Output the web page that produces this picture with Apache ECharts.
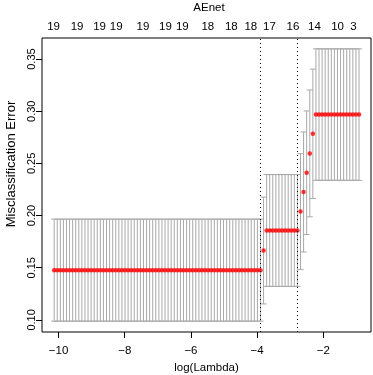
<!DOCTYPE html>
<html>
<head>
<meta charset="utf-8">
<script src="https://cdn.jsdelivr.net/npm/echarts@6/dist/echarts.min.js"></script>
<style>
  html, body { margin: 0; padding: 0; background: #fff; }
  #chart { width: 373px; height: 375px; }
</style>
</head>
<body>
<div id="chart"></div>
<script>
// log(lambda) for each of the 100 fits
const logLambda = [
  -10.132, -10.039, -9.946, -9.853, -9.760, -9.667, -9.574, -9.481, -9.388, -9.295,
  -9.202, -9.109, -9.016, -8.923, -8.830, -8.737, -8.644, -8.550, -8.457, -8.364,
  -8.271, -8.178, -8.085, -7.992, -7.899, -7.806, -7.713, -7.620, -7.527, -7.434,
  -7.341, -7.248, -7.155, -7.062, -6.969, -6.876, -6.783, -6.690, -6.597, -6.504,
  -6.411, -6.318, -6.225, -6.132, -6.039, -5.946, -5.853, -5.760, -5.667, -5.574,
  -5.480, -5.387, -5.294, -5.201, -5.108, -5.015, -4.922, -4.829, -4.736, -4.643,
  -4.550, -4.457, -4.364, -4.271, -4.178, -4.085, -3.992, -3.899, -3.806, -3.713,
  -3.620, -3.527, -3.434, -3.341, -3.248, -3.155, -3.062, -2.969, -2.876, -2.783,
  -2.690, -2.597, -2.504, -2.410, -2.317, -2.224, -2.131, -2.038, -1.945, -1.852,
  -1.759, -1.666, -1.573, -1.480, -1.387, -1.294, -1.201, -1.108, -1.015, -0.922
];

// mean cross-validated misclassification error
const cvm = [
  0.1477, 0.1477, 0.1477, 0.1477, 0.1477, 0.1477, 0.1477, 0.1477, 0.1477, 0.1477,
  0.1477, 0.1477, 0.1477, 0.1477, 0.1477, 0.1477, 0.1477, 0.1477, 0.1477, 0.1477,
  0.1477, 0.1477, 0.1477, 0.1477, 0.1477, 0.1477, 0.1477, 0.1477, 0.1477, 0.1477,
  0.1477, 0.1477, 0.1477, 0.1477, 0.1477, 0.1477, 0.1477, 0.1477, 0.1477, 0.1477,
  0.1477, 0.1477, 0.1477, 0.1477, 0.1477, 0.1477, 0.1477, 0.1477, 0.1477, 0.1477,
  0.1477, 0.1477, 0.1477, 0.1477, 0.1477, 0.1477, 0.1477, 0.1477, 0.1477, 0.1477,
  0.1477, 0.1477, 0.1477, 0.1477, 0.1477, 0.1477, 0.1477, 0.1477, 0.1665, 0.1857,
  0.1857, 0.1857, 0.1857, 0.1857, 0.1857, 0.1857, 0.1857, 0.1857, 0.1857, 0.1857,
  0.2038, 0.2226, 0.2411, 0.2596, 0.2784, 0.2968, 0.2968, 0.2968, 0.2968, 0.2968,
  0.2968, 0.2968, 0.2968, 0.2968, 0.2968, 0.2968, 0.2968, 0.2968, 0.2968, 0.2968
];

// standard error of the cv error
const cvsd = [
  0.0489, 0.0489, 0.0489, 0.0489, 0.0489, 0.0489, 0.0489, 0.0489, 0.0489, 0.0489,
  0.0489, 0.0489, 0.0489, 0.0489, 0.0489, 0.0489, 0.0489, 0.0489, 0.0489, 0.0489,
  0.0489, 0.0489, 0.0489, 0.0489, 0.0489, 0.0489, 0.0489, 0.0489, 0.0489, 0.0489,
  0.0489, 0.0489, 0.0489, 0.0489, 0.0489, 0.0489, 0.0489, 0.0489, 0.0489, 0.0489,
  0.0489, 0.0489, 0.0489, 0.0489, 0.0489, 0.0489, 0.0489, 0.0489, 0.0489, 0.0489,
  0.0489, 0.0489, 0.0489, 0.0489, 0.0489, 0.0489, 0.0489, 0.0489, 0.0489, 0.0489,
  0.0489, 0.0489, 0.0489, 0.0489, 0.0489, 0.0489, 0.0489, 0.0489, 0.0512, 0.0536,
  0.0536, 0.0536, 0.0536, 0.0536, 0.0536, 0.0536, 0.0536, 0.0536, 0.0536, 0.0536,
  0.0556, 0.0575, 0.0592, 0.0608, 0.0620, 0.0630, 0.0630, 0.0630, 0.0630, 0.0630,
  0.0630, 0.0630, 0.0630, 0.0630, 0.0630, 0.0630, 0.0630, 0.0630, 0.0630, 0.0630
];

const lambdaMinLog = -3.899;
const lambda1seLog = -2.783;

// number of non-zero coefficients shown along the top
const topLabelPos = [-10.15, -9.44, -8.76, -8.26, -7.45, -6.77, -6.26, -5.49, -4.78, -4.19, -3.63, -2.92, -2.27, -1.57, -1.09];
const topLabelText = ['19', '19', '19', '19', '19', '19', '19', '18', '18', '18', '17', '16', '14', '10', '3'];

const xTicks = [-10, -8, -6, -4, -2];
const yTicks = [0.10, 0.15, 0.20, 0.25, 0.30, 0.35];

const FONT = 'Liberation Sans';
const FS = 11.5;
const capHalf = 0.0921; // half width of the error bar caps, in log(lambda) units

const chart = echarts.init(document.getElementById('chart'));

const barData = logLambda.map((x, i) => [x, cvm[i] - cvsd[i], cvm[i] + cvsd[i]]);
const meanData = logLambda.map((x, i) => [x, cvm[i]]);

const textStyle = { color: '#000', fontFamily: FONT, fontSize: FS };

const option = {
  animation: false,
  grid: {
    left: 42, right: 2, top: 38, bottom: 43,
    outerBoundsMode: 'none',
    show: true, borderColor: '#000', borderWidth: 1, backgroundColor: 'transparent'
  },
  graphic: [
    {
      type: 'text', x: 209, y: 8,
      style: { text: 'AEnet', fill: '#000', font: FS + 'px "' + FONT + '"', textAlign: 'center', textVerticalAlign: 'middle' }
    },
    {
      // y axis title, sits a little above the plot centre as in the source
      type: 'text', x: 11, y: 164, rotation: Math.PI / 2,
      style: { text: 'Misclassification Error', fill: '#000', font: '13px "' + FONT + '"', textAlign: 'center', textVerticalAlign: 'middle' }
    }
  ],
  xAxis: [
    {
      type: 'value', position: 'bottom', min: -10.5, max: -0.56,
      splitLine: { show: false },
      axisLine: { show: false },
      axisTick: { show: true, length: 6, customValues: xTicks, lineStyle: { color: '#000' } },
      axisLabel: {
        ...textStyle, margin: 13, customValues: xTicks,
        formatter: v => String(v).replace('-', '\u2212')
      },
      name: 'log(Lambda)', nameLocation: 'middle', nameGap: 30,
      nameTextStyle: textStyle
    },
    {
      type: 'value', position: 'top', min: -10.5, max: -0.56,
      splitLine: { show: false },
      axisLine: { show: false },
      axisTick: { show: false },
      axisLabel: {
        ...textStyle, margin: 5, customValues: topLabelPos,
        formatter: v => topLabelText[topLabelPos.indexOf(v)]
      }
    }
  ],
  yAxis: {
    type: 'value', min: 0.0884, max: 0.3702,
    splitLine: { show: false },
    axisLine: { show: false },
    axisTick: { show: true, length: 6, customValues: yTicks, lineStyle: { color: '#000' } },
    axisLabel: {
      ...textStyle, fontSize: 11, rotate: 90, margin: 5, customValues: yTicks,
      formatter: v => v.toFixed(2)
    }
  },
  series: [
    {
      type: 'custom',
      xAxisIndex: 0,
      data: barData,
      encode: { x: 0, y: [1, 2] },
      renderItem: (params, api) => {
        const x = api.value(0);
        const top = api.coord([x, api.value(2)]);
        const bot = api.coord([x, api.value(1)]);
        const l = api.coord([x - capHalf, 0])[0];
        const r = api.coord([x + capHalf, 0])[0];
        const style = { stroke: '#A9A9A9', lineWidth: 1 };
        return {
          type: 'group',
          children: [
            { type: 'line', shape: { x1: top[0], y1: top[1], x2: bot[0], y2: bot[1] }, style },
            { type: 'line', shape: { x1: l, y1: top[1], x2: r, y2: top[1] }, style },
            { type: 'line', shape: { x1: l, y1: bot[1], x2: r, y2: bot[1] }, style }
          ]
        };
      }
    },
    {
      type: 'scatter',
      xAxisIndex: 0,
      data: meanData,
      symbol: 'circle',
      symbolSize: 4.5,
      itemStyle: { color: '#FF0000' },
      markLine: {
        silent: true,
        symbol: 'none',
        label: { show: false },
        lineStyle: { color: '#000', width: 1, type: [1, 3] },
        data: [{ xAxis: lambdaMinLog }, { xAxis: lambda1seLog }]
      }
    }
  ]
};

chart.setOption(option);
</script>
</body>
</html>
